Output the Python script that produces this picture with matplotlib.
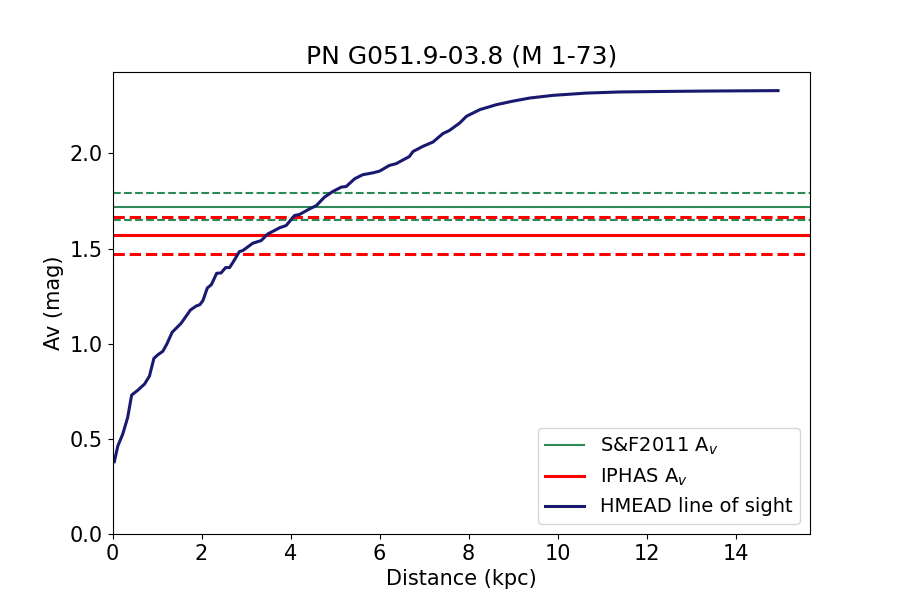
import numpy as np
import matplotlib
matplotlib.use("Agg")
import matplotlib.pyplot as plt

# HMEAD line of sight extinction
dist = [0.04, 0.12, 0.23, 0.34, 0.43, 0.57, 0.72, 0.83, 0.93, 1.02, 1.13, 1.22,
        1.34, 1.45, 1.54, 1.75, 1.88, 1.96, 2.03, 2.13, 2.22, 2.34, 2.44, 2.54,
        2.63, 2.72, 2.85, 2.93, 3.15, 3.34, 3.49, 3.64, 3.75, 3.90, 4.09, 4.20,
        4.43, 4.58, 4.76, 4.95, 5.14, 5.25, 5.44, 5.62, 5.85, 6.00, 6.22, 6.37,
        6.60, 6.67, 6.75, 6.97, 7.20, 7.42, 7.57, 7.80, 7.95, 8.25, 8.62, 9.00,
        9.37, 9.89, 10.64, 11.39, 12.52, 13.5, 14.95]
av = [0.38, 0.463, 0.525, 0.612, 0.73, 0.756, 0.788, 0.83, 0.923, 0.942, 0.96,
      0.998, 1.06, 1.086, 1.107, 1.177, 1.198, 1.205, 1.226, 1.293, 1.31, 1.37,
      1.372, 1.40, 1.40, 1.433, 1.484, 1.49, 1.528, 1.542, 1.577, 1.595, 1.609,
      1.621, 1.674, 1.679, 1.709, 1.726, 1.77, 1.80, 1.823, 1.826, 1.867, 1.888,
      1.898, 1.907, 1.937, 1.946, 1.975, 1.984, 2.01, 2.037, 2.06, 2.104, 2.121,
      2.16, 2.195, 2.23, 2.256, 2.275, 2.291, 2.305, 2.317, 2.323, 2.326, 2.328,
      2.330]

# S&F2011 and IPHAS values with their errors
sf_av, sf_lo, sf_hi = 1.718, 1.650, 1.792
iphas_av, iphas_lo, iphas_hi = 1.570, 1.473, 1.668

fig, ax = plt.subplots(figsize=(9, 6), dpi=100)

ax.axhline(sf_av, color="seagreen", lw=1.5, label=r"S&F2011 A$_v$")
ax.axhline(sf_lo, color="seagreen", lw=1.5, ls="--")
ax.axhline(sf_hi, color="seagreen", lw=1.5, ls="--")
ax.axhline(iphas_av, color="red", lw=2.2, label=r"IPHAS A$_v$")
ax.axhline(iphas_lo, color="red", lw=2.2, ls="--")
ax.axhline(iphas_hi, color="red", lw=2.2, ls="--")
ax.plot(dist, av, color="midnightblue", lw=2.2, label="HMEAD line of sight")

ax.set_xlim(0, max(dist) * 1.048)
ax.set_ylim(0, max(av) * 1.042)
ax.set_xticks(np.arange(0, 15, 2))
ax.set_title("PN G051.9-03.8 (M 1-73)", fontsize=18)
ax.set_xlabel("Distance (kpc)", fontsize=15)
ax.set_ylabel("Av (mag)", fontsize=15)
ax.tick_params(labelsize=15)
ax.legend(loc="lower right", fontsize=14)

fig.savefig("out.png")
